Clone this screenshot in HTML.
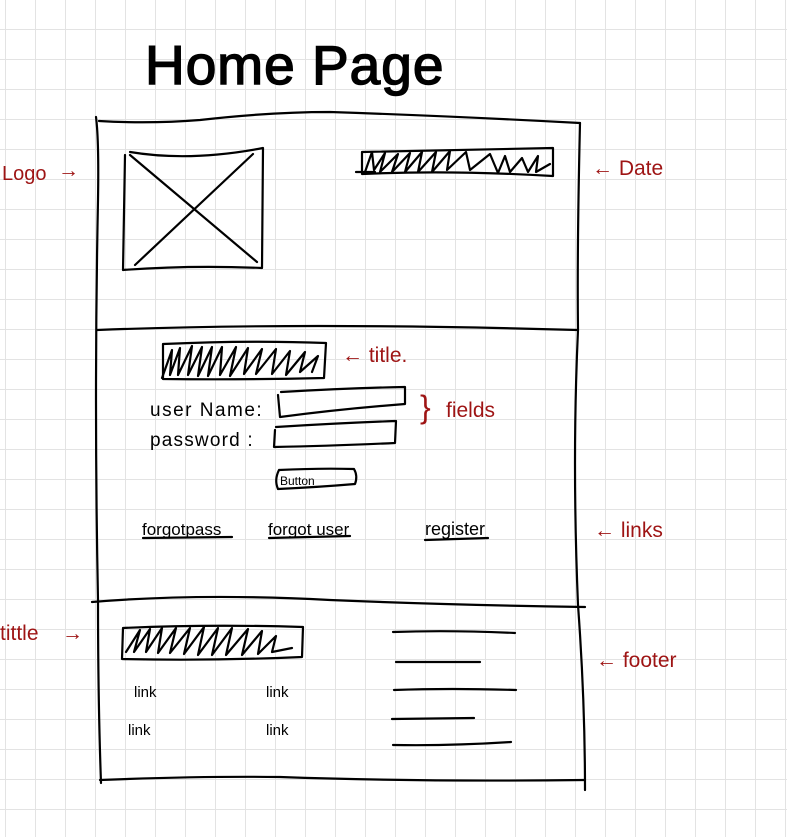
<!DOCTYPE html>
<html><head><meta charset="utf-8"><style>
html,body{margin:0;padding:0;background:#fff;}
svg{display:block;}
text{font-family:"Liberation Sans",sans-serif;}
</style></head><body>
<svg width="787" height="837" viewBox="0 0 787 837" xmlns="http://www.w3.org/2000/svg">
<defs>
<pattern id="g" x="5" y="29" width="30" height="30" patternUnits="userSpaceOnUse">
<path d="M0 0H30M0 0V30" stroke="#e3e3e3" stroke-width="2" fill="none"/>
</pattern>
</defs>
<rect width="787" height="837" fill="url(#g)"/>
<g fill="none" stroke="#000" stroke-width="2.2" stroke-linecap="round" stroke-linejoin="round">
<!-- outer box -->
<path d="M99 121 Q150 124 200 120 Q270 112 330 112 Q450 116 580 123"/>
<path d="M96 117 Q99 140 98 200 Q94 400 98 600 Q98 700 101 783"/>
<path d="M580 123 Q577 250 578 330 Q572 460 578 605 Q585 700 585 790"/>
<path d="M97 330 Q300 322 578 330"/>
<path d="M92 602 Q200 593 330 600 Q450 605 585 607"/>
<path d="M100 780 Q200 776 280 777 Q420 782 585 780"/>
<!-- logo box -->
<path d="M130 152 Q190 162 263 148 L262 268 Q190 265 123 270 L125 155"/>
<path d="M130 155 L257 262"/>
<path d="M253 154 L135 265"/>
<!-- date bar -->
<path d="M362 152 L553 148 L553 176 Q450 170 362 174 Z"/>
<path d="M356 172 L375 172"/>
<path d="M365 172 L372 152 L374 170 L385 153 L380 172 L398 154 L392 172 L410 153 L405 172 L422 152 L418 172 L436 152 L432 172 L450 151 L447 170 L466 152 L470 170 L490 154 L498 173 L505 156 L510 172 L522 158 L528 172 L538 156 L536 172 L550 164"/>
<!-- title bar -->
<path d="M163 344 Q250 340 326 343 L324 378 Q240 380 163 379 Z"/>
<path d="M162 378 L172 350 L170 375 L180 348 L178 375 L192 346 L188 375 L202 347 L198 376 L212 347 L208 376 L222 347 L220 375 L236 347 L230 376 L248 348 L244 374 L262 349 L256 374 L276 349 L272 374 L290 351 L286 375 L305 352 L300 372 L318 356 L312 372"/>
<!-- fields -->
<path d="M281 392 Q350 388 405 387 L405 404 Q340 409 280 417 L278 395"/>
<path d="M276 427 Q340 423 396 421 L395 443 Q330 446 274 447 L275 430"/>
<!-- button -->
<path d="M279 470 Q320 468 354 469 Q358 476 355 484 Q320 487 278 489 Q274 480 279 470"/>
<!-- underlines -->
<path d="M143 538 L232 537"/>
<path d="M269 538 L350 536"/>
<path d="M425 540 L488 538"/>
<!-- footer title -->
<path d="M123 628 Q210 624 303 627 L302 657 Q210 661 122 659 Z"/>
<path d="M126 652 L140 630 L134 652 L150 629 L146 652 L162 628 L158 653 L176 628 L170 653 L190 628 L184 654 L204 627 L198 655 L218 628 L212 655 L232 628 L226 655 L248 629 L242 655 L262 631 L258 654 L276 636 L272 652 L292 648"/>
<!-- footer lines -->
<path d="M393 632 Q450 630 515 633"/>
<path d="M396 662 L480 662"/>
<path d="M394 690 Q450 688 516 690"/>
<path d="M392 719 L474 718"/>
<path d="M393 745 Q450 746 511 742"/>
</g>
<!-- title -->
<text x="145" y="84" font-size="55" fill="#000" stroke="#000" stroke-width="1.5" letter-spacing="1">Home Page</text>
<!-- labels -->
<g fill="#000" font-size="19">
<text x="150" y="416" letter-spacing="1.5">user Name:</text>
<text x="150" y="446" letter-spacing="1.2">password :</text>
<text x="142" y="535" font-size="17">forgotpass</text>
<text x="268" y="535" font-size="17">forgot user</text>
<text x="425" y="535" font-size="18">register</text>
<text x="280" y="485" font-size="12">Button</text>
<text x="134" y="697" font-size="15">link</text>
<text x="266" y="697" font-size="15">link</text>
<text x="128" y="735" font-size="15">link</text>
<text x="266" y="735" font-size="15">link</text>
</g>
<g fill="#9e1414" font-size="21">
<text x="2" y="180" font-size="20">Logo</text>
<text x="58" y="177">→</text>
<text x="592" y="175">← Date</text>
<text x="342" y="362">← title.</text>
<text x="420" y="418" font-size="32">}</text>
<text x="446" y="417">fields</text>
<text x="594" y="537">← links</text>
<text x="0" y="640">tittle</text>
<text x="62" y="640">→</text>
<text x="596" y="667">← footer</text>
</g>
</svg>
</body></html>
